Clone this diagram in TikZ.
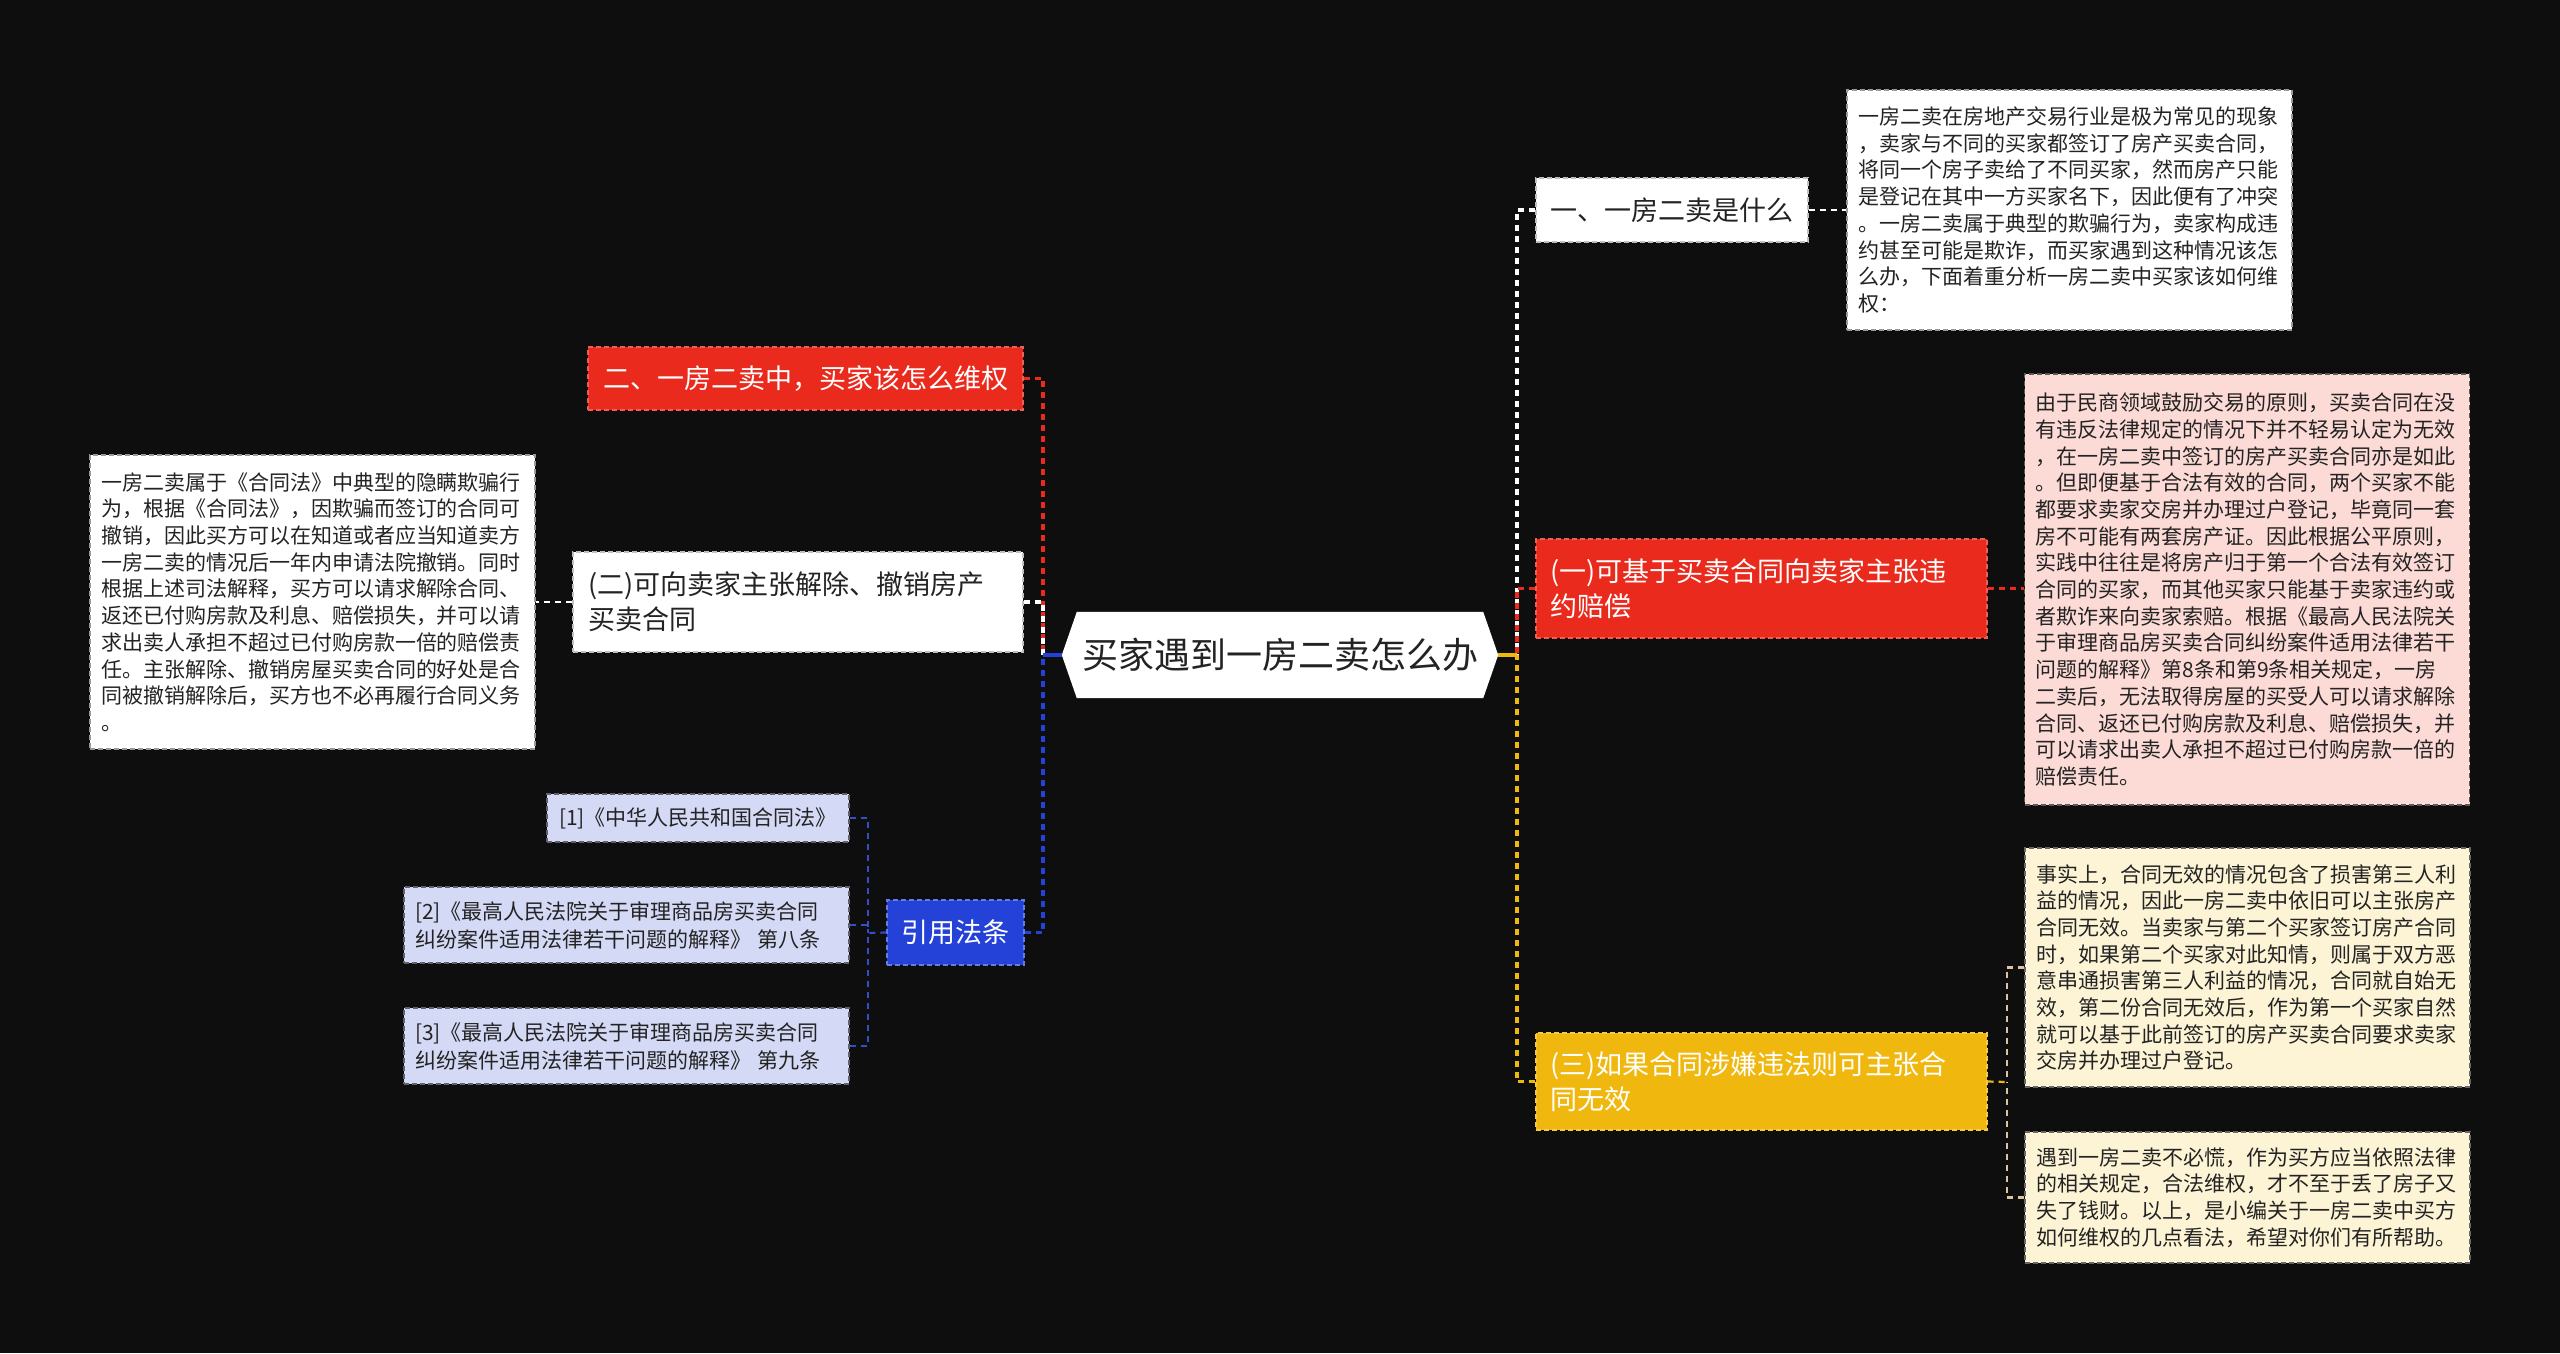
\documentclass[tikz,border=0pt]{standalone}
\usepackage{fontspec}
\setmainfont{Noto Sans CJK SC}
\usetikzlibrary{backgrounds}
\definecolor{bg}{RGB}{14,14,14}
\definecolor{mred}{RGB}{234,42,28}
\definecolor{myel}{RGB}{240,184,14}
\definecolor{mblue}{RGB}{36,66,216}
\definecolor{pinkf}{RGB}{252,218,214}
\definecolor{creamf}{RGB}{253,244,214}
\definecolor{lavf}{RGB}{212,217,245}
\definecolor{tan}{RGB}{222,196,158}
\definecolor{sblue}{RGB}{52,78,200}
\definecolor{txt}{RGB}{35,35,35}
\tikzset{
 lvA/.style={rectangle, font=\fontsize{27}{35}\selectfont, align=left, inner xsep=14pt, inner ysep=0pt, dash pattern=on 5pt off 3pt, line width=1.4pt},
 whitebox/.style={lvA, fill=white, draw=black!25, text=txt},
 redbox/.style={lvA, fill=mred, draw=mred!75!white, text=white},
 yelbox/.style={lvA, fill=myel, draw=myel!75!white, text=white},
 bluebox/.style={lvA, fill=mblue, draw=mblue!70!white, text=white, align=center},
 notebox/.style={rectangle, font=\fontsize{21}{26.7}\selectfont, align=left, inner xsep=11pt, inner ysep=0pt, text width=423pt, text=txt, dash pattern=on 5pt off 3pt, line width=1.4pt},
 pinkbox/.style={notebox, fill=pinkf, draw=black!65},
 creambox/.style={notebox, fill=creamf, draw=black!60},
 wnote/.style={notebox, fill=white, draw=black!40},
 refbox/.style={rectangle, font=\fontsize{21}{28}\selectfont, align=left, inner xsep=11pt, inner ysep=0pt, text=txt, fill=lavf, draw=lavf!45!black, dash pattern=on 5pt off 3pt, line width=1.4pt},
 conn/.style={line width=3.5pt, dash pattern=on 6pt off 5pt},
 subconn/.style={line width=2.2pt, dash pattern=on 6pt off 5pt},
 stub/.style={line width=3.5pt},
}
\begin{document}
\begin{tikzpicture}[x=1pt,y=-1pt]
\useasboundingbox (0,0) rectangle (2560,1353);

% central node
\node[minimum width=436pt, minimum height=86pt, inner sep=0pt, text=txt, font=\fontsize{36}{40}\selectfont] (c) at (1280,655) {买家遇到一房二卖怎么办};

% right side
\node[whitebox, text width=244pt, minimum height=64pt] (n1) at (1672,210) {一、一房二卖是什么};
\node[redbox, text width=423pt, minimum height=99pt] (n2) at (1761.5,588.5) {(一)可基于买卖合同向卖家主张违\\约赔偿};
\node[yelbox, text width=423pt, minimum height=97pt] (n3) at (1761.5,1081.5) {(三)如果合同涉嫌违法则可主张合\\同无效};

\node[wnote, minimum height=240pt] (t1) at (2069.5,210) {一房二卖在房地产交易行业是极为常见的现象\\，卖家与不同的买家都签订了房产买卖合同，\\将同一个房子卖给了不同买家，然而房产只能\\是登记在其中一方买家名下，因此便有了冲突\\。一房二卖属于典型的欺骗行为，卖家构成违\\约甚至可能是欺诈，而买家遇到这种情况该怎\\么办，下面着重分析一房二卖中买家该如何维\\权：};

\node[pinkbox, minimum height=431pt] (t2) at (2247,589.5) {由于民商领域鼓励交易的原则，买卖合同在没\\有违反法律规定的情况下并不轻易认定为无效\\，在一房二卖中签订的房产买卖合同亦是如此\\。但即便基于合法有效的合同，两个买家不能\\都要求卖家交房并办理过户登记，毕竟同一套\\房不可能有两套房产证。因此根据公平原则，\\实践中往往是将房产归于第一个合法有效签订\\合同的买家，而其他买家只能基于卖家违约或\\者欺诈来向卖家索赔。根据《最高人民法院关\\于审理商品房买卖合同纠纷案件适用法律若干\\问题的解释》第8条和第9条相关规定，一房\\二卖后，无法取得房屋的买受人可以请求解除\\合同、返还已付购房款及利息、赔偿损失，并\\可以请求出卖人承担不超过已付购房款一倍的\\赔偿责任。};

\node[creambox, minimum height=239pt] (y1) at (2247.5,967.5) {事实上，合同无效的情况包含了损害第三人利\\益的情况，因此一房二卖中依旧可以主张房产\\合同无效。当卖家与第二个买家签订房产合同\\时，如果第二个买家对此知情，则属于双方恶\\意串通损害第三人利益的情况，合同就自始无\\效，第二份合同无效后，作为第一个买家自然\\就可以基于此前签订的房产买卖合同要求卖家\\交房并办理过户登记。};

\node[creambox, minimum height=131pt] (y2) at (2247.5,1197.5) {遇到一房二卖不必慌，作为买方应当依照法律\\的相关规定，合法维权，才不至于丢了房子又\\失了钱财。以上，是小编关于一房二卖中买方\\如何维权的几点看法，希望对你们有所帮助。};

% left side
\node[redbox, inner xsep=15pt, text width=405pt, minimum height=63pt] (l1) at (805.5,378.5) {二、一房二卖中，买家该怎么维权};
\node[whitebox, inner xsep=15pt, text width=420pt, minimum height=100pt] (l2) at (798,602) {(二)可向卖家主张解除、撤销房产\\买卖合同};
\node[bluebox, inner xsep=0pt, minimum width=137pt, minimum height=65pt] (l3) at (955.5,932.5) {引用法条};

\node[wnote, minimum height=294pt] (lt) at (312.5,602) {一房二卖属于《合同法》中典型的隐瞒欺骗行\\为，根据《合同法》，因欺骗而签订的合同可\\撤销，因此买方可以在知道或者应当知道卖方\\一房二卖的情况后一年内申请法院撤销。同时\\根据上述司法解释，买方可以请求解除合同、\\返还已付购房款及利息、赔偿损失，并可以请\\求出卖人承担不超过已付购房款一倍的赔偿责\\任。主张解除、撤销房屋买卖合同的好处是合\\同被撤销解除后，买方也不必再履行合同义务\\。};

\node[refbox, align=center, inner xsep=0pt, minimum width=302pt, minimum height=48pt] (r1) at (698,818) {[1]《中华人民共和国合同法》};
\node[refbox, text width=423pt, minimum height=76pt] (r2) at (626.5,925) {[2]《最高人民法院关于审理商品房买卖合同\\纠纷案件适用法律若干问题的解释》 第八条};
\node[refbox, text width=423pt, minimum height=76pt] (r3) at (626.5,1046) {[3]《最高人民法院关于审理商品房买卖合同\\纠纷案件适用法律若干问题的解释》 第九条};

% junction coordinates
\coordinate (rt) at (1517,655);
\coordinate (lj) at (1043,655);
\coordinate (ys) at (2007,1082);
\coordinate (bs) at (868,933);

% right connectors
\draw[conn, white] (n1.west) -| (rt);
\draw[conn, mred] (n2.west) -| (rt);
\draw[conn, myel] (n3.west) -| (rt);
\draw[stub, myel] (c.east) -- (rt);
\draw[subconn, white] (n1.east) -- (n1.east -| t1.west);
\draw[subconn, mred] (n2.east) -- (n2.east -| t2.west);
\draw[subconn, tan] (y1.west) -| (ys);
\draw[subconn, tan] (y2.west) -| (ys);
\draw[subconn, myel] (n3.east) -- (ys);

% left connectors
\draw[conn, mred] (l1.east) -| (lj);
\draw[conn, white] (l2.east) -| (lj);
\draw[conn, mblue] (l3.east) -| (lj);
\draw[stub, mblue] (c.west) -- (lj);
\draw[subconn, white] (l2.west) -- (l2.west -| lt.east);
\draw[subconn, sblue] (r1.east) -| (bs);
\draw[subconn, sblue] (r2.east) -| (bs);
\draw[subconn, sblue] (r3.east) -| (bs);
\draw[subconn, sblue] (l3.west) -- (bs);

\begin{scope}[on background layer]
\fill[bg] (0,0) rectangle (2560,1353);
\fill[white] (c.west) -- ([xshift=15pt]c.north west) -- ([xshift=-15pt]c.north east) -- (c.east) -- ([xshift=-15pt]c.south east) -- ([xshift=15pt]c.south west) -- cycle;
\end{scope}
\end{tikzpicture}
\end{document}
